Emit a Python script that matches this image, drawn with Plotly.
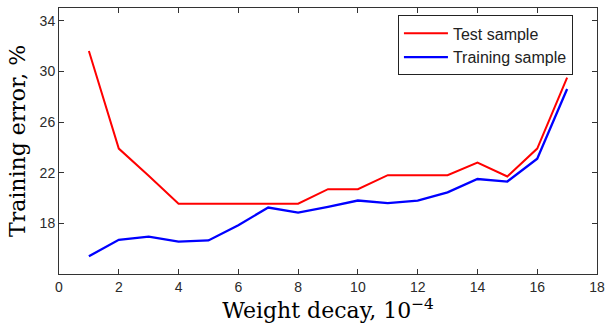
import plotly.graph_objects as go

decay = list(range(1, 18))
test_err = [31.6, 23.9, 21.75, 19.55, 19.55, 19.55, 19.55, 19.55, 20.7, 20.7,
            21.8, 21.8, 21.8, 22.8, 21.7, 23.9, 29.5]
train_err = [15.4, 16.7, 16.95, 16.55, 16.65, 17.85, 19.25, 18.85, 19.3, 19.8,
             19.6, 19.8, 20.45, 21.5, 21.3, 23.1, 28.6]
x_ticks = [0, 2, 4, 6, 8, 10, 12, 14, 16, 18]
y_ticks = [18, 22, 26, 30, 34]

fig = go.Figure()
fig.add_trace(go.Scatter(x=decay, y=test_err, mode="lines", name="Test sample",
                         line=dict(color="#ff0000", width=2)))
fig.add_trace(go.Scatter(x=decay, y=train_err, mode="lines", name="Training sample",
                         line=dict(color="#0000ff", width=2.3)))

axis_common = dict(showline=True, linecolor="#333333", linewidth=1, mirror="ticks",
                   ticks="inside", ticklen=5, tickcolor="#333333", showgrid=False,
                   zeroline=False, automargin=False,
                   tickfont=dict(family="Liberation Sans, Arial", size=14, color="#2a2a2a"))

fig.update_layout(
    width=605, height=326,
    margin=dict(l=59, r=8, t=8, b=52),
    paper_bgcolor="white", plot_bgcolor="white",
    xaxis=dict(range=[0, 18], tickvals=x_ticks,
               title=dict(text="Weight decay, 10<sup>−4</sup>", standoff=4,
                          font=dict(family="DejaVu Serif", size=22, color="black")),
               **axis_common),
    yaxis=dict(range=[14.0, 35.0], tickvals=y_ticks,
               title=dict(text="Training error, %", standoff=7,
                          font=dict(family="DejaVu Serif", size=22, color="black")),
               **axis_common),
    legend=dict(x=0.630, y=0.972, xanchor="left", yanchor="top",
                bgcolor="white", bordercolor="#222222", borderwidth=1,
                font=dict(family="Liberation Sans, Arial", size=16, color="#222222"),
                tracegroupgap=0, itemwidth=44),
    showlegend=True,
)

fig.write_html("out.html", post_script="document.body.style.margin='0';",
               config={"displayModeBar": False})
